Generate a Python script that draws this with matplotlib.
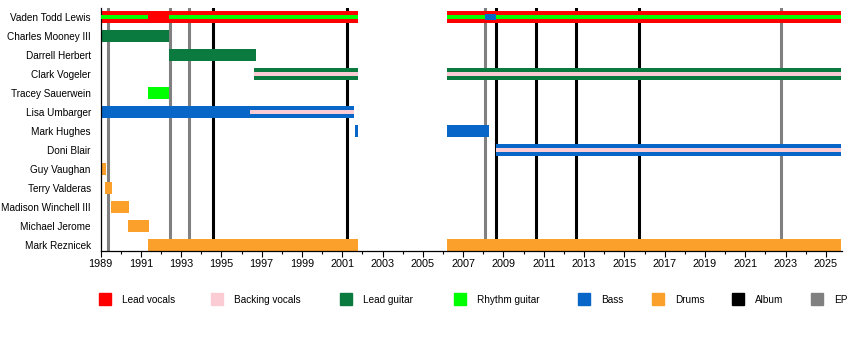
import matplotlib
matplotlib.use("Agg")
import matplotlib.pyplot as plt
from matplotlib.patches import Rectangle
from matplotlib.ticker import MultipleLocator

plt.rcParams["font.family"] = ["Liberation Sans", "DejaVu Sans"]

# band members, top to bottom
members = [
    "Vaden Todd Lewis", "Charles Mooney III", "Darrell Herbert", "Clark Vogeler",
    "Tracey Sauerwein", "Lisa Umbarger", "Mark Hughes", "Doni Blair",
    "Guy Vaughan", "Terry Valderas", "Madison Winchell III", "Michael Jerome",
    "Mark Reznicek",
]

# main bars: (member, role, start, end)
main_bars = [
    ("Vaden Todd Lewis", "Lead vocals", 1989.0, 2001.78),
    ("Vaden Todd Lewis", "Lead vocals", 2006.2, 2025.75),
    ("Charles Mooney III", "Lead guitar", 1989.0, 1992.4),
    ("Darrell Herbert", "Lead guitar", 1992.4, 1996.72),
    ("Clark Vogeler", "Lead guitar", 1996.62, 2001.78),
    ("Clark Vogeler", "Lead guitar", 2006.2, 2025.75),
    ("Tracey Sauerwein", "Rhythm guitar", 1991.36, 1992.4),
    ("Lisa Umbarger", "Bass", 1989.0, 2001.58),
    ("Mark Hughes", "Bass", 2001.62, 2001.78),
    ("Mark Hughes", "Bass", 2006.2, 2008.3),
    ("Doni Blair", "Bass", 2008.63, 2025.75),
    ("Guy Vaughan", "Drums", 1989.0, 1989.25),
    ("Terry Valderas", "Drums", 1989.22, 1989.57),
    ("Madison Winchell III", "Drums", 1989.52, 1990.42),
    ("Michael Jerome", "Drums", 1990.37, 1991.41),
    ("Mark Reznicek", "Drums", 1991.36, 2001.78),
    ("Mark Reznicek", "Drums", 2006.2, 2025.75),
]

# thin secondary-role stripes: (member, role, start, end)
stripes = [
    ("Vaden Todd Lewis", "Rhythm guitar", 1989.0, 1991.36),
    ("Vaden Todd Lewis", "Rhythm guitar", 1992.4, 2001.78),
    ("Vaden Todd Lewis", "Rhythm guitar", 2006.2, 2025.75),
    ("Vaden Todd Lewis", "Bass", 2008.1, 2008.65),
    ("Clark Vogeler", "Backing vocals", 1996.62, 2001.78),
    ("Clark Vogeler", "Backing vocals", 2006.2, 2025.75),
    ("Lisa Umbarger", "Backing vocals", 1996.4, 2001.58),
    ("Doni Blair", "Backing vocals", 2008.63, 2025.75),
]

albums = [1994.58, 2001.23, 2008.63, 2010.61, 2012.6, 2015.73]
eps = [1989.37, 1992.45, 1993.39, 2008.08, 2022.77]

year_ticks = list(range(1989, 2026, 2))

roles = ["Lead vocals", "Backing vocals", "Lead guitar", "Rhythm guitar",
         "Bass", "Drums", "Album", "EP"]
colors = {
    "Lead vocals": "#ff0000",
    "Backing vocals": "#fbccd4",
    "Lead guitar": "#0a7a3e",
    "Rhythm guitar": "#00ff00",
    "Bass": "#0866c9",
    "Drums": "#fba02a",
    "Album": "#000000",
    "EP": "#808080",
}

fig = plt.figure(figsize=(8.5, 3.4), dpi=100)
ax = fig.add_axes([100.5 / 850, 1 - 251 / 340, (842 - 100.5) / 850, 243 / 340])

row = {m: i for i, m in enumerate(members)}

for x in eps:
    ax.axvline(x, color=colors["EP"], lw=2.2, zorder=1)
for x in albums:
    ax.axvline(x, color=colors["Album"], lw=2.2, zorder=1)

for name, role, start, end in main_bars:
    ax.barh(row[name], end - start, left=start, height=12 / 19,
            color=colors[role], zorder=2)
for name, role, start, end in stripes:
    # the short bass spell of Lewis shows up a bit fatter in the original
    h = 6 / 19 if (role == "Bass") else 4 / 19
    ax.barh(row[name], end - start, left=start, height=h,
            color=colors[role], zorder=3 if role != "Bass" else 4)

ax.set_xlim(1989, 2025.8)
ax.set_ylim(12.34, -0.45)
ax.set_yticks(range(len(members)))
ax.set_yticklabels(members, fontsize=7.2)
ax.tick_params(axis="y", length=0, pad=7)
ax.set_xticks(year_ticks)
ax.xaxis.set_minor_locator(MultipleLocator(1))
ax.tick_params(axis="x", which="major", length=4, width=0.8, labelsize=7.8, pad=2)
ax.tick_params(axis="x", which="minor", length=2, width=0.8)
for side in ("top", "right"):
    ax.spines[side].set_visible(False)
for side in ("left", "bottom"):
    ax.spines[side].set_linewidth(0.9)

# legend along the bottom
legend_x = [99, 211, 340, 454, 578, 652, 732, 811]
for x, role in zip(legend_x, roles):
    fig.patches.append(Rectangle((x / 850, 1 - 305 / 340), 12 / 850, 12 / 340,
                                 transform=fig.transFigure, color=colors[role]))
    fig.text((x + 23) / 850, 1 - 300 / 340, role, fontsize=7.2, va="center")

fig.savefig("out.png", dpi=100)
